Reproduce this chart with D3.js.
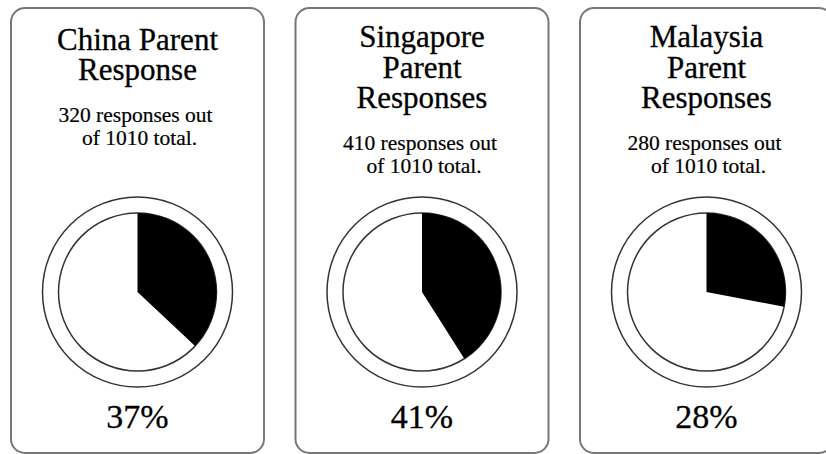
<!DOCTYPE html>
<html>
<head>
<meta charset="utf-8">
<script src="https://cdn.jsdelivr.net/npm/d3@7"></script>
<style>
  html, body { margin: 0; padding: 0; background: #fff; }
  svg { display: block; }
</style>
</head>
<body>
<svg id="chart" width="826" height="454"></svg>
<script>
// ---- data ----
const titleLines = [
  ["China Parent", "Response"],
  ["Singapore", "Parent", "Responses"],
  ["Malaysia", "Parent", "Responses"]
];
const responses = [320, 410, 280];
const totalResponses = 1010;
const percents = [37, 41, 28];

// ---- layout ----
const svg = d3.select("#chart");
const font = "Liberation Serif, Times New Roman, serif";
const panelW = 253, panelTop = 8, panelH = 445;
const xPanel = d3.scalePoint().domain(d3.range(percents.length)).range([11, 580]);
const angle = d3.scaleLinear().domain([0, 100]).range([0, 2 * Math.PI]);
const pieCy = 292, innerR = 79, outerR = 95;
const arc = d3.arc().innerRadius(0).outerRadius(innerR);

percents.forEach((p, i) => {
  const x0 = xPanel(i);
  const cx = x0 + panelW / 2;
  const g = svg.append("g");

  g.append("rect")
    .attr("x", x0).attr("y", panelTop)
    .attr("width", panelW).attr("height", panelH)
    .attr("rx", 14).attr("ry", 14)
    .attr("fill", "#fff").attr("stroke", "#777").attr("stroke-width", 2);

  const lines = titleLines[i];
  const titleY0 = lines.length === 2 ? 50 : 47;
  const lh = lines.length === 2 ? 30 : 30.5;
  lines.forEach((t, j) => {
    g.append("text")
      .attr("x", cx).attr("y", titleY0 + j * lh)
      .attr("text-anchor", "middle")
      .attr("font-family", font).attr("font-size", 31)
      .attr("fill", "#000").attr("stroke", "#000").attr("stroke-width", 0.3)
      .text(t);
  });

  const subY = titleY0 + (lines.length - 1) * lh + 42;
  const sub = [responses[i] + " responses out", "of " + totalResponses + " total."];
  sub.forEach((t, j) => {
    g.append("text")
      .attr("x", cx + (j === 1 ? 2 : -2)).attr("y", subY + j * 23)
      .attr("text-anchor", "middle")
      .attr("font-family", font).attr("font-size", 21.5)
      .attr("fill", "#000").attr("stroke", "#000").attr("stroke-width", 0.2)
      .text(t);
  });

  const pg = g.append("g").attr("transform", `translate(${cx},${pieCy})`);
  pg.append("circle").attr("r", outerR)
    .attr("fill", "#fff").attr("stroke", "#333").attr("stroke-width", 1.5);
  pg.append("circle").attr("r", innerR)
    .attr("fill", "#fff").attr("stroke", "#333").attr("stroke-width", 1.5);
  pg.append("path")
    .attr("d", arc({ startAngle: 0, endAngle: angle(p) }))
    .attr("fill", "#000");

  g.append("text")
    .attr("x", cx).attr("y", 428)
    .attr("text-anchor", "middle")
    .attr("font-family", font).attr("font-size", 34)
    .attr("fill", "#000").attr("stroke", "#000").attr("stroke-width", 0.3)
    .text(p + "%");
});
</script>
</body>
</html>
